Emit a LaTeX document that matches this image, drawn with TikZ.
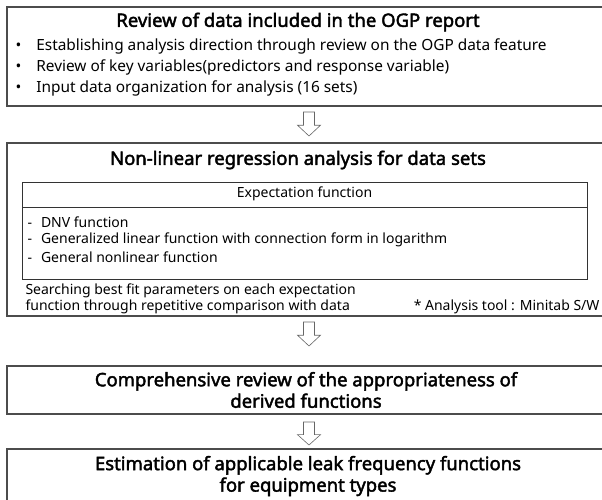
\documentclass[tikz,border=0pt]{standalone}
\usepackage{fontspec}
\setmainfont{Noto Sans}[AutoFakeBold=2.2]
\begin{document}
\begin{tikzpicture}[x=1pt,y=-1pt,
  frame/.style={draw=black!70,line width=1.2pt},
  thinframe/.style={draw=black!80,line width=0.9pt},
  title/.style={font=\fontsize{18.5}{21.5}\selectfont\bfseries,anchor=center,align=center},
  body/.style={font=\fontsize{15.4}{18}\selectfont,anchor=west},
  small/.style={font=\fontsize{14}{16.5}\selectfont,anchor=west},
  flowarrow/.style={draw=black!60,line width=0.6pt,fill=white}]
\useasboundingbox (0,0) rectangle (602,499);
% stage boxes
\path[frame] (7,7) rectangle (612,106);
\path[frame] (7,143) rectangle (612,316);
\path[frame] (7,366) rectangle (612,414);
\path[frame] (7,449) rectangle (612,510);
% expectation-function table
\path[thinframe] (22,182) rectangle (587,279);
\draw[thinframe] (22,207) -- (587,207);
% block arrows between stages
\foreach \t/\b in {112/136,322/346,422/445}{
  \pgfmathsetmacro{\m}{\t+0.55*(\b-\t)}
  \path[flowarrow] (303.5,\t) -- (314.5,\t) -- (314.5,\m) -- (320.5,\m) -- (309,\b) -- (297.5,\m) -- (303.5,\m) -- cycle;
}
% stage 1
\node[title] (t1) at (298,22) {Review of data included in the OGP report};
\node[body] (b1) at (12,46) {\textbullet\hspace{15pt}Establishing analysis direction through review on the OGP data feature};
\node[body] (b2) at (12,67) {\textbullet\hspace{15pt}Review of key variables(predictors and response variable)};
\node[body] (b3) at (12,88) {\textbullet\hspace{15pt}Input data organization for analysis (16 sets)};
% stage 2
\node[title] (t2) at (298,160) {Non-linear regression analysis for data sets};
\node[font=\fontsize{14}{16.5}\selectfont] (eh) at (304.5,194) {Expectation function};
\node[small] (e1) at (22,222) {\hspace{2pt}-\hspace{9pt}DNV function};
\node[small] (e2) at (22,240) {\hspace{2pt}-\hspace{9pt}Generalized linear function with connection form in logarithm};
\node[small] (e3) at (22,257) {\hspace{2pt}-\hspace{9pt}General nonlinear function};
\node[small,align=left] (sr) at (22,299) {Searching best fit parameters on each expectation\\function through repetitive comparison with data};
\node[font=\fontsize{14}{16.5}\selectfont,anchor=east] (tool) at (603,307) {* Analysis tool : Minitab S/W};
% stage 3
\node[title] (t3) at (306,390) {Comprehensive review of the appropriateness of\\derived functions};
% stage 4
\node[title] (t4) at (308,476) {Estimation of applicable leak frequency functions\\for equipment types};
\end{tikzpicture}
\end{document}
